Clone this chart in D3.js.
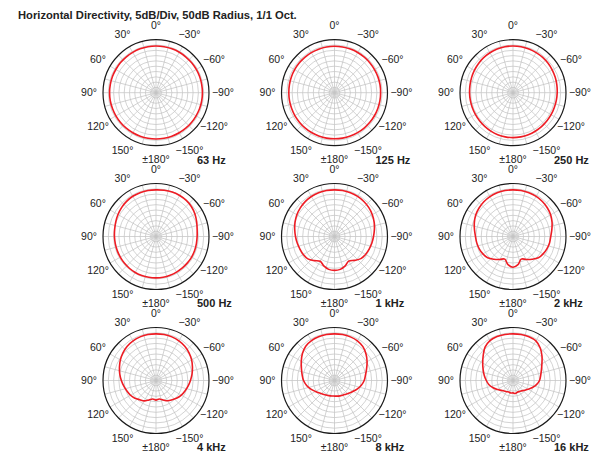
<!DOCTYPE html>
<html>
<head>
<meta charset="utf-8">
<script src="https://cdn.jsdelivr.net/npm/d3@7/dist/d3.min.js"></script>
<style>
  body { margin: 0; background: #fff; }
  text { font-family: "Liberation Sans", Arial, Helvetica, sans-serif; fill: #222; }
</style>
</head>
<body>
<svg id="canvas"></svg>
<script>
'use strict';

// angles in degrees, 0 = front, positive to the left (counter-clockwise)
var ANGLES = d3.range(0, 360, 10);

// levels in dB relative to the outer ring, left side 0..180 then right side -170..-10
var LEVELS_63 = [-6.0,-6.0,-6.0,-6.1,-6.1,-6.1,-6.2,-6.2,-6.2,-6.2,-6.2,-6.3,-6.3,-6.3,-6.3,-6.3,-6.3,-6.3,-6.3,
  -6.3,-6.3,-6.3,-6.3,-6.3,-6.3,-6.2,-6.2,-6.2,-6.2,-6.1,-6.1,-6.1,-6.1,-6.0,-6.0,-6.0];
var LEVELS_125 = [-6.2,-6.2,-6.3,-6.3,-6.4,-6.5,-6.6,-6.7,-6.8,-6.9,-6.9,-6.9,-6.8,-6.8,-6.7,-6.6,-6.6,-6.5,-6.5,
  -6.5,-6.5,-6.5,-6.5,-6.5,-6.5,-6.5,-6.5,-6.5,-6.4,-6.4,-6.4,-6.3,-6.3,-6.2,-6.2,-6.2];
var LEVELS_250 = [-6.0,-6.0,-6.2,-6.5,-6.9,-7.4,-7.9,-8.4,-8.8,-9.0,-9.1,-9.1,-9.0,-8.8,-8.5,-8.2,-7.9,-7.7,-7.6,
  -7.7,-7.8,-8.0,-8.2,-8.4,-8.5,-8.6,-8.5,-8.3,-8.0,-7.6,-7.2,-6.8,-6.5,-6.3,-6.1,-6.0];
var LEVELS_500 = [-6.0,-6.0,-6.0,-6.2,-6.8,-7.6,-8.6,-9.6,-10.4,-10.8,-11.0,-11.1,-11.1,-11.0,-10.9,-10.8,-10.8,-10.9,-11.0,
  -11.0,-11.1,-11.2,-11.3,-11.3,-11.2,-11.2,-11.3,-11.2,-10.6,-9.2,-7.6,-6.3,-5.6,-5.3,-5.4,-5.7];
var LEVELS_1K = [-6.0,-6.0,-6.1,-6.4,-7.0,-7.9,-9.0,-10.4,-11.9,-13.2,-14.3,-15.3,-16.0,-17.2,-20.3,-23.0,-20.5,-18.5,-18.0,
  -18.5,-20.5,-23.2,-20.6,-17.5,-16.2,-15.2,-14.2,-13.2,-11.8,-10.2,-8.8,-7.7,-6.9,-6.3,-6.1,-6.0];
var LEVELS_2K = [-6.0,-6.0,-6.1,-6.5,-7.2,-8.2,-9.4,-11.2,-13.1,-14.6,-15.3,-16.1,-17.2,-18.8,-22.0,-25.0,-27.3,-23.0,-21.0,
  -23.0,-27.3,-25.0,-22.0,-18.8,-17.2,-16.0,-15.0,-14.4,-12.8,-10.8,-9.0,-7.8,-6.9,-6.3,-6.1,-6.0];
var LEVELS_4K = [-6.0,-6.0,-6.2,-6.8,-7.8,-9.3,-11.2,-13.3,-15.3,-17.3,-19.2,-20.8,-22.2,-24.0,-26.3,-27.8,-30.5,-32.3,-31.5,
  -32.3,-30.5,-28.0,-26.3,-24.2,-22.4,-20.9,-19.3,-17.5,-15.5,-13.4,-11.2,-9.3,-7.8,-6.8,-6.2,-6.0];
var LEVELS_8K = [-6.0,-6.0,-6.1,-6.6,-7.8,-10.5,-13.8,-16.8,-19.0,-20.8,-23.3,-26.3,-29.3,-31.6,-33.2,-34.2,-34.8,-35.2,-35.3,
  -35.0,-34.6,-34.0,-33.2,-31.6,-29.6,-27.0,-24.3,-22.0,-20.3,-17.8,-14.5,-11.2,-8.3,-6.8,-6.2,-6.0];
var LEVELS_16K = [-6.0,-5.9,-5.9,-6.6,-9.0,-13.3,-17.0,-20.0,-22.5,-24.8,-27.0,-30.0,-33.0,-35.5,-37.0,-37.8,-38.5,-38.0,-38.3,
  -37.5,-38.2,-38.0,-37.2,-35.8,-33.5,-30.5,-27.5,-25.0,-23.5,-21.5,-18.5,-14.3,-10.0,-6.8,-6.0,-5.9];

var FREQ_LABELS = ['63 Hz', '125 Hz', '250 Hz', '500 Hz', '1 kHz', '2 kHz', '4 kHz', '8 kHz', '16 kHz'];
var FREQ_LEVELS = [LEVELS_63, LEVELS_125, LEVELS_250, LEVELS_500, LEVELS_1K, LEVELS_2K, LEVELS_4K, LEVELS_8K, LEVELS_16K];

var TICK_ANGLES = [0, 30, 60, 90, 120, 150, 180, -150, -120, -90, -60, -30];
var TICK_LABELS = ['0\u00b0', '30\u00b0', '60\u00b0', '90\u00b0', '120\u00b0', '150\u00b0', '\u00b1180\u00b0',
  '\u2212150\u00b0', '\u2212120\u00b0', '\u221290\u00b0', '\u221260\u00b0', '\u221230\u00b0'];
var RING_LEVELS = d3.range(-45, 0, 5);
var SPOKE_ANGLES = d3.range(0, 360, 15);

var TITLE = 'Horizontal Directivity, 5dB/Div, 50dB Radius, 1/1 Oct.';

var WIDTH = 602, HEIGHT = 454;
var RADIUS = 53;
var COL_X = [156, 334.5, 513];
var ROW_Y = [92.7, 236.5, 380.5];

function ToRad(deg) {
  // positive angles go to the left, lineRadial goes clockwise
  return -deg * Math.PI / 180;
}

function RenderPolar(svg, cx, cy, levels, label) {
  var r = d3.scaleLinear().domain([-50, 0]).range([0, RADIUS]);
  var g = svg.append('g')
      .attr('transform', 'translate(' + [cx, cy] + ')');

  g.selectAll('line.spoke')
      .data(SPOKE_ANGLES)
    .enter().append('line')
      .attr('class', 'spoke')
      .attr('x1', 0).attr('y1', 0)
      .attr('x2', function(a) { return r(0) * Math.sin(ToRad(a)); })
      .attr('y2', function(a) { return -r(0) * Math.cos(ToRad(a)); })
      .attr('stroke', '#c4c4c4')
      .attr('stroke-width', 0.75);

  g.selectAll('circle.ring')
      .data(RING_LEVELS)
    .enter().append('circle')
      .attr('class', 'ring')
      .attr('r', r)
      .attr('fill', 'none')
      .attr('stroke', '#c4c4c4')
      .attr('stroke-width', 0.75);

  g.append('circle')
      .attr('r', r(0))
      .attr('fill', 'none')
      .attr('stroke', '#1a1a1a')
      .attr('stroke-width', 1.2);

  var points = ANGLES.map(function(a, i) { return { angle: a, level: levels[i] }; });
  var line = d3.lineRadial()
      .angle(function(d) { return ToRad(d.angle); })
      .radius(function(d) { return r(d.level); })
      .curve(d3.curveCatmullRomClosed);
  g.append('path')
      .attr('d', line(points))
      .attr('fill', 'none')
      .attr('stroke', '#ee1c24')
      .attr('stroke-width', 1.6);

  g.selectAll('text.tick')
      .data(TICK_ANGLES)
    .enter().append('text')
      .attr('class', 'tick')
      .attr('x', function(a) { return 67 * Math.sin(ToRad(a)); })
      .attr('y', function(a) { return -67 * Math.cos(ToRad(a)); })
      .attr('dy', '0.35em')
      .attr('text-anchor', 'middle')
      .attr('font-size', 10.5)
      .text(function(a, i) { return TICK_LABELS[i]; });

  g.append('text')
      .attr('x', 41)
      .attr('y', 67)
      .attr('dy', '0.35em')
      .attr('font-size', 11)
      .attr('font-weight', 'bold')
      .text(label);
}

function Main() {
  var svg = d3.select('#canvas')
      .attr('width', WIDTH)
      .attr('height', HEIGHT);

  FREQ_LEVELS.forEach(function(levels, i) {
    RenderPolar(svg, COL_X[i % 3], ROW_Y[Math.floor(i / 3)], levels, FREQ_LABELS[i]);
  });

  svg.append('text')
      .attr('x', 18)
      .attr('y', 19)
      .attr('font-size', 11.2)
      .attr('font-weight', 'bold')
      .text(TITLE);
}

Main();
</script>
</body>
</html>
